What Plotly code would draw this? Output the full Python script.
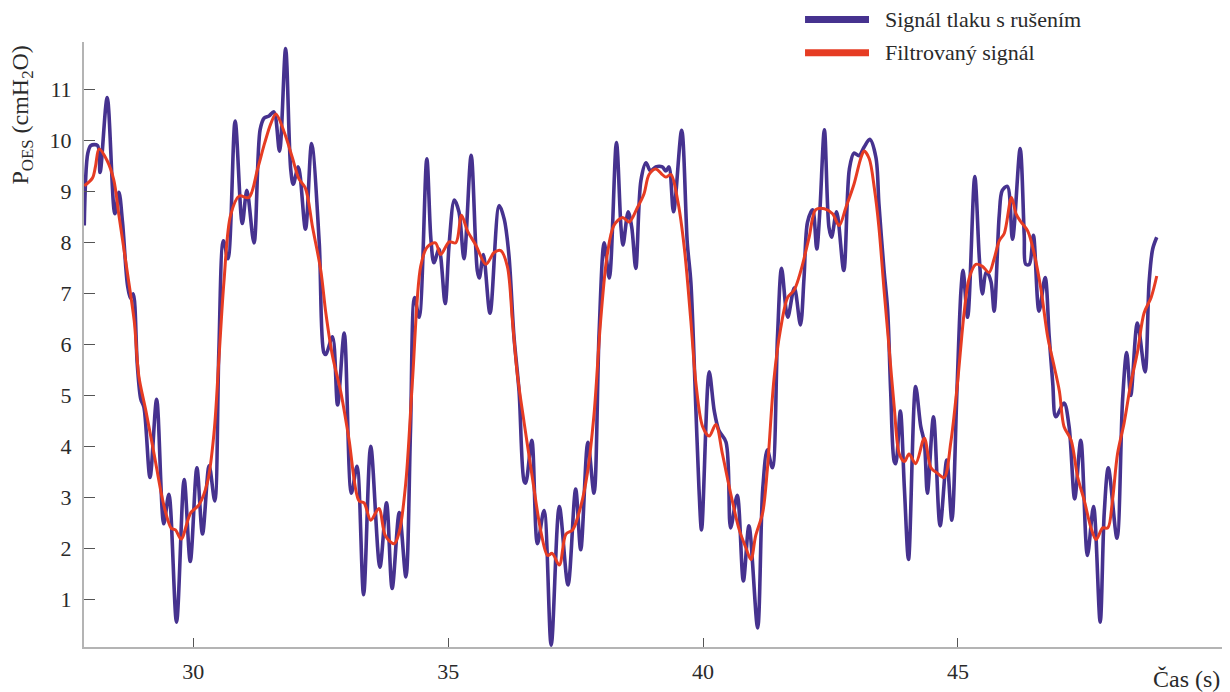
import plotly.graph_objects as go

# Raw pressure signal with interference (time in s, pressure in cmH2O)
t_raw = [27.86, 27.93, 27.99, 28.12, 28.17, 28.31, 28.46, 28.54, 28.61, 28.71, 28.77, 28.82,
         28.90, 28.97, 29.03, 29.15, 29.28, 29.42, 29.52, 29.67, 29.82, 29.94, 30.07, 30.18,
         30.31, 30.42, 30.50, 30.59, 30.68, 30.82, 30.96, 31.05, 31.19, 31.31, 31.39,
         31.485, 31.58, 31.69, 31.81, 31.91, 31.96, 32.06, 32.20, 32.32, 32.47, 32.56, 32.60,
         32.73, 32.83, 32.96, 33.10, 33.21, 33.34, 33.48, 33.66, 33.79, 33.90, 34.04, 34.17,
         34.26, 34.34, 34.43, 34.58, 34.66, 34.72, 34.82, 34.94,
         35.02, 35.12, 35.21, 35.31, 35.45, 35.57, 35.61, 35.69, 35.82, 36.00, 36.10, 36.19,
         36.29, 36.39, 36.49, 36.52, 36.64, 36.75, 36.88, 37.02, 37.18, 37.35, 37.50, 37.60,
         37.74, 37.86, 37.96, 38.06, 38.16, 38.30, 38.39, 38.43,
         38.53, 38.60, 38.68, 38.78, 38.88, 38.97, 39.07, 39.20, 39.27, 39.33, 39.42, 39.58,
         39.69, 39.76, 39.86, 39.92, 39.97, 40.12, 40.22, 40.31, 40.45, 40.54, 40.67, 40.79,
         40.90, 41.07, 41.17, 41.26, 41.36, 41.46, 41.54, 41.66, 41.79, 41.91,
         41.98, 42.05, 42.15, 42.23, 42.29, 42.38, 42.47, 42.52, 42.62, 42.76, 42.87, 42.96,
         43.06, 43.16, 43.27, 43.39, 43.45, 43.55, 43.62, 43.68, 43.75, 43.78, 43.87, 43.95,
         44.03, 44.17, 44.27, 44.34, 44.40, 44.52, 44.65, 44.78, 44.88, 44.98, 45.06, 45.10,
         45.19, 45.33, 45.42, 45.48, 45.55,
         45.58, 45.65, 45.71, 45.81, 45.87, 45.97, 46.07, 46.22, 46.30, 46.33, 46.40, 46.48,
         46.59, 46.71, 46.79, 46.86, 46.92, 47.08, 47.18, 47.29, 47.41, 47.54, 47.66, 47.79,
         47.87, 47.95, 48.12, 48.23, 48.31, 48.39, 48.52, 48.67, 48.75, 48.82, 48.90]
p_raw = [8.33, 9.75, 9.90, 9.90, 9.37, 10.84, 8.56, 8.98, 8.40, 7.15, 6.90, 6.99,
         5.61, 4.92, 4.77, 3.39, 4.92, 2.48, 3.06, 0.55, 3.35, 1.74, 3.58, 2.28,
         3.62, 2.93, 5.84, 8.03, 7.68, 10.38, 8.37, 9.02, 7.99, 10.21, 10.44,
         10.48, 10.56, 9.79, 11.80, 9.44, 9.14, 9.48, 8.26, 9.94, 7.99, 5.84, 5.80,
         6.15, 4.81, 6.22, 3.08, 3.61, 1.09, 4.00, 1.63, 2.89, 1.21, 2.70, 1.44,
         4.31, 6.92, 6.53, 9.64, 8.07, 7.60, 7.87, 6.80,
         7.99, 8.83, 8.60, 7.68, 9.71, 7.45, 7.30, 7.76, 6.61, 8.72, 8.45, 7.76,
         6.15, 5.08, 3.31, 3.28, 4.12, 2.09, 2.74, 0.10, 2.82, 1.28, 3.16, 1.97,
         4.08, 3.08, 6.22, 7.99, 7.30, 9.96, 8.29, 7.95,
         8.60, 8.30, 7.49, 9.21, 9.56, 9.40, 9.48, 9.48, 9.40, 9.48, 8.60, 10.20,
         7.99, 7.22, 4.69, 3.16, 2.36, 5.46, 4.69, 4.31, 4.08, 2.40, 3.04, 1.36,
         2.44, 0.44, 3.16, 3.93, 3.58, 6.15, 7.49, 6.53, 7.11, 6.38,
         7.30, 8.40, 8.64, 7.87, 8.60, 10.21, 8.29, 8.10, 8.60, 7.45, 9.44, 9.75,
         9.70, 9.87, 10.02, 9.67, 8.75, 7.45, 6.68, 5.08, 3.70, 3.66, 4.69, 3.16,
         1.78, 5.17, 4.39, 4.08, 3.08, 4.58, 2.44, 3.73, 2.55, 5.08, 7.07, 7.45,
         6.53, 9.29, 7.68, 6.99, 7.41,
         7.40, 7.22, 6.65, 8.53, 9.02, 9.10, 8.06, 9.84, 8.14, 7.57, 7.57, 8.14,
         6.65, 7.31, 6.15, 5.23, 4.58, 4.85, 4.39, 2.97, 4.12, 1.86, 2.82, 0.55,
         2.70, 3.58, 2.20, 4.92, 5.84, 5.00, 6.42, 5.46, 7.22, 7.87, 8.10]

# Filtered signal
t_filt = [27.86, 28.02, 28.08, 28.15, 28.31, 28.44, 28.54, 28.71, 28.84, 28.93, 29.07, 29.23,
          29.42, 29.57, 29.65, 29.76, 29.95, 30.11, 30.28, 30.41, 30.50, 30.60, 30.73, 30.90,
          31.09, 31.26, 31.40,
          31.52, 31.62, 31.78, 31.94, 32.07, 32.20, 32.34, 32.50, 32.60, 32.73, 32.89, 33.05,
          33.25, 33.35, 33.48, 33.64, 33.77, 33.94, 34.04, 34.17, 34.30, 34.46, 34.59, 34.75,
          34.85, 35.02,
          35.15, 35.26, 35.38, 35.54, 35.74, 35.90, 36.03, 36.16, 36.26, 36.36, 36.49, 36.65,
          36.82, 36.95, 37.04, 37.18, 37.31, 37.44, 37.60, 37.73, 37.86, 37.99, 38.12, 38.25,
          38.42, 38.55,
          38.71, 38.84, 38.94, 39.07, 39.20, 39.27, 39.37, 39.50, 39.63, 39.76, 39.86, 39.99,
          40.12, 40.25, 40.38, 40.54, 40.71, 40.84, 40.94, 41.03, 41.17, 41.26, 41.39, 41.52,
          41.66, 41.79, 41.92, 42.08,
          42.21, 42.38, 42.54, 42.67, 42.80, 42.96, 43.10, 43.16, 43.26, 43.36, 43.45, 43.55,
          43.65, 43.75, 43.85, 43.95, 44.04, 44.17, 44.34, 44.47, 44.60, 44.73, 44.86, 44.99,
          45.12, 45.22, 45.35, 45.48,
          45.61, 45.71, 45.81, 45.91, 46.05, 46.14, 46.23, 46.37, 46.50, 46.63, 46.76, 46.86,
          46.99, 47.08, 47.22, 47.35, 47.48, 47.61, 47.71, 47.84, 47.94, 48.03, 48.13, 48.26,
          48.39, 48.52, 48.65, 48.79, 48.90]
p_filt = [9.11, 9.26, 9.49, 9.83, 9.60, 9.22, 8.53, 7.38, 6.46, 5.38, 4.69, 3.85,
          2.85, 2.39, 2.36, 2.18, 2.70, 2.85, 3.31, 4.31, 5.69, 7.22, 8.53, 8.91,
          8.88, 9.44, 9.95,
          10.33, 10.52, 10.17, 9.67, 9.25, 9.06, 8.29, 7.45, 6.61, 5.77, 5.08, 4.16,
          2.93, 2.89, 2.55, 2.78, 2.24, 2.09, 2.32, 3.31, 5.31, 7.53, 7.91, 7.99,
          7.76, 8.01,
          7.99, 8.53, 8.22, 7.95, 7.57, 7.80, 7.84, 7.53, 6.46, 5.38, 4.46, 3.39,
          2.32, 1.86, 1.90, 1.67, 2.28, 2.36, 2.82, 3.47, 4.62, 6.46, 7.76, 8.33,
          8.49, 8.40,
          8.68, 8.95, 9.33, 9.44, 9.33, 9.28, 9.33, 8.83, 7.91, 6.46, 5.23, 4.39,
          4.20, 4.43, 3.85, 3.08, 2.36, 2.01, 1.78, 2.24, 2.70, 3.54, 5.31, 6.30,
          6.92, 7.07, 7.45, 8.10,
          8.64, 8.66, 8.56, 8.33, 8.68, 9.14, 9.67, 9.79, 9.64, 9.06, 8.29, 7.07,
          5.92, 4.77, 3.85, 3.70, 3.85, 3.66, 4.16, 3.58, 3.47, 3.39, 4.08, 5.23,
          6.61, 7.30, 7.57, 7.53,
          7.41, 7.68, 8.03, 8.18, 8.88, 8.56, 8.41, 8.22, 7.76, 7.07, 6.15, 5.69,
          5.08, 4.39, 4.12, 3.39, 2.93, 2.40, 2.17, 2.40, 2.40, 2.93, 3.85, 4.46,
          5.23, 5.84, 6.61, 6.92, 7.34]

x_ticks = [30, 35, 40, 45]
y_ticks = [1, 2, 3, 4, 5, 6, 7, 8, 9, 10, 11]

name_raw = "Signál tlaku s rušením"
name_filt = "Filtrovaný signál"
color_raw = "#46328f"
color_filt = "#e63c23"

FONT = "'Liberation Serif', 'Times New Roman', Times, 'DejaVu Serif', serif"
TEXT = "#2a2a2a"

fig = go.Figure()
fig.add_trace(go.Scatter(x=t_raw, y=p_raw, mode="lines", name=name_raw,
                         line=dict(color=color_raw, width=3.6, shape="spline", smoothing=0.9)))
fig.add_trace(go.Scatter(x=t_filt, y=p_filt, mode="lines", name=name_filt,
                         line=dict(color=color_filt, width=3, shape="spline", smoothing=0.9)))

fig.update_layout(
    width=1230, height=692, autosize=False,
    margin=dict(l=84, r=8, t=42, b=42),
    paper_bgcolor="white", plot_bgcolor="white",
    showlegend=False,
    font=dict(family=FONT, size=22, color=TEXT),
    xaxis=dict(range=[27.855, 50.18], tickvals=x_ticks, ticks="inside", ticklen=9,
               tickwidth=1, tickcolor="#555", showline=True, linecolor="#b4b4b4",
               linewidth=2, showgrid=False, zeroline=False, ticklabelstandoff=4,
               tickfont=dict(family=FONT, size=22, color=TEXT)),
    yaxis=dict(range=[0.064, 11.93], tickvals=y_ticks, ticks="inside", ticklen=11,
               tickwidth=1, tickcolor="#555", showline=True, linecolor="#b4b4b4",
               linewidth=2, showgrid=False, zeroline=False, ticklabelstandoff=6,
               tickfont=dict(family=FONT, size=22, color=TEXT)),
)

# Axis titles
fig.add_annotation(text="P<sub>OES</sub> (cmH<sub>2</sub>O)", xref="paper", yref="paper",
                   x=-0.0545, y=0.88, xanchor="center", yanchor="middle", textangle=-90,
                   showarrow=False, font=dict(family=FONT, size=24, color=TEXT))
fig.add_annotation(text="Čas (s)", xref="paper", yref="paper", x=1.0, y=-0.053,
                   xanchor="right", yanchor="middle", showarrow=False,
                   font=dict(family=FONT, size=24, color=TEXT))

# Legend drawn as line samples with labels
for name, color, ly in [(name_raw, color_raw, 1.0373), (name_filt, color_filt, 0.9823)]:
    fig.add_shape(type="line", xref="paper", yref="paper", x0=0.6336, x1=0.6898,
                  y0=ly, y1=ly, line=dict(color=color, width=7))
    fig.add_annotation(text=name, xref="paper", yref="paper", x=0.7025, y=ly,
                       xanchor="left", yanchor="middle", showarrow=False,
                       font=dict(family=FONT, size=22, color=TEXT))

fig.write_html("out.html")
